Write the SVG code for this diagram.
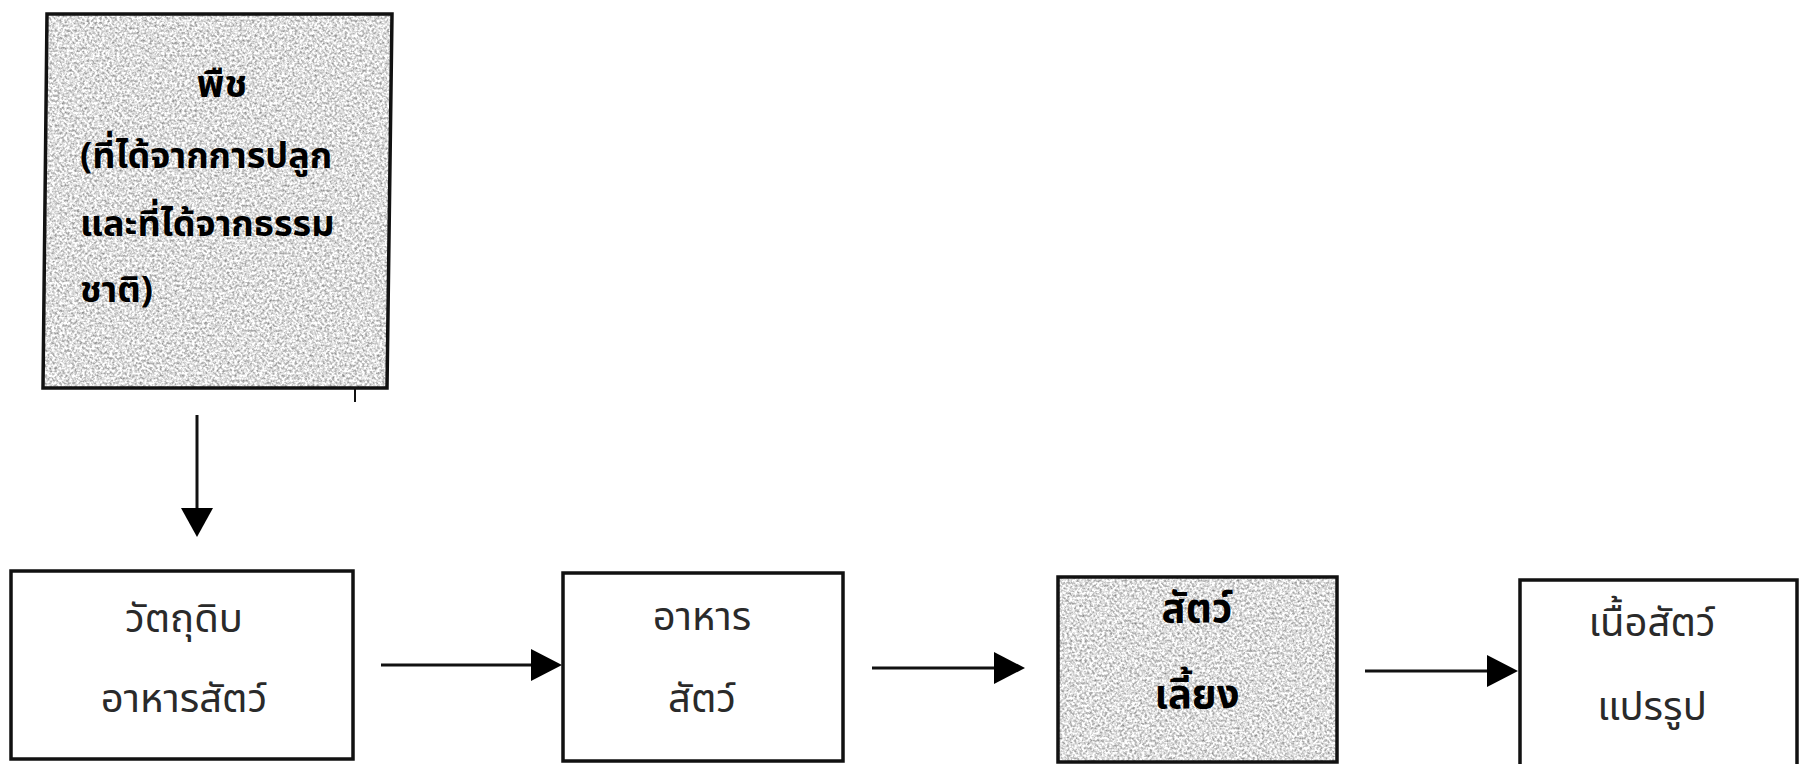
<svg xmlns="http://www.w3.org/2000/svg" width="1799" height="764" viewBox="0 0 1799 764">
  <style>
    .box { stroke: #111; stroke-width: 3.5; fill: none; }
    .plain { fill: #fff; }
    .grainfill { fill: #ccc; filter: url(#noise); }
    .edge { stroke: #111; stroke-width: 3; fill: none; }
    .head { fill: #000; }
    .th { font-family: "Noto Sans Thai", "Noto Serif Thai", "Loma", "Garuda", "Norasi", "DejaVu Sans", sans-serif; fill: #2a2a2a; }
    .reg { font-size: 40px; font-weight: 400; text-anchor: middle; }
    .bold { font-size: 36px; font-weight: 700; fill: #000; }
    .boldc { font-size: 40px; font-weight: 700; fill: #000; text-anchor: middle; }
  </style>
  <defs>
    <filter id="noise" x="0" y="0" width="100%" height="100%" color-interpolation-filters="sRGB">
      <feTurbulence type="fractalNoise" baseFrequency="0.4" numOctaves="2" seed="7" result="t"/>
      <feColorMatrix in="t" type="matrix" values="0.9 0 0 0 0.42  0.9 0 0 0 0.42  0.9 0 0 0 0.42  0 0 0 0 1" result="g"/>
      <feComposite in="g" in2="SourceGraphic" operator="in"/>
    </filter>
  </defs>

  <g id="node-plant">
    <polygon class="grainfill" points="47,14 392,14 387,388 43,388"/>
    <polygon class="box" points="47,14 392,14 387,388 43,388"/>
    <text class="th" x="222" y="97" text-anchor="middle" style="font-size:38px;font-weight:700;fill:#000">พืช</text>
    <text class="th bold" x="80" y="168">(ที่ได้จากการปลูก</text>
    <text class="th bold" x="80" y="236">และที่ได้จากธรรม</text>
    <text class="th bold" x="80" y="302">ชาติ)</text>
    <line x1="355" y1="389" x2="355" y2="402" stroke="#111" stroke-width="2"/>
  </g>

  <g id="node-raw">
    <rect class="box plain" x="11" y="571" width="342" height="188"/>
    <text class="th reg" x="184" y="632">วัตถุดิบ</text>
    <text class="th reg" x="184" y="712">อาหารสัตว์</text>
  </g>

  <g id="node-feed">
    <rect class="box plain" x="563" y="573" width="280" height="188"/>
    <text class="th reg" x="702" y="630">อาหาร</text>
    <text class="th reg" x="702" y="712">สัตว์</text>
  </g>

  <g id="node-livestock">
    <rect class="grainfill" x="1058" y="577" width="279" height="185"/>
    <rect class="box" x="1058" y="577" width="279" height="185"/>
    <text class="th boldc" x="1197" y="622">สัตว์</text>
    <text class="th boldc" x="1197" y="708">เลี้ยง</text>
  </g>

  <g id="node-meat">
    <rect class="box plain" x="1520" y="580" width="277" height="200"/>
    <text class="th reg" x="1652" y="636">เนื้อสัตว์</text>
    <text class="th reg" x="1652" y="720">แปรรูป</text>
  </g>

  <g id="connectors">
    <line class="edge" x1="197" y1="415" x2="197" y2="512"/>
    <polygon class="head" points="181,508 213,508 197,537"/>

    <line class="edge" x1="381" y1="665" x2="533" y2="665"/>
    <polygon class="head" points="531,649 531,681 562,665"/>

    <line class="edge" x1="872" y1="668" x2="996" y2="668"/>
    <polygon class="head" points="994,652 994,684 1025,668"/>

    <line class="edge" x1="1365" y1="671" x2="1489" y2="671"/>
    <polygon class="head" points="1487,655 1487,687 1518,671"/>
  </g>
</svg>
